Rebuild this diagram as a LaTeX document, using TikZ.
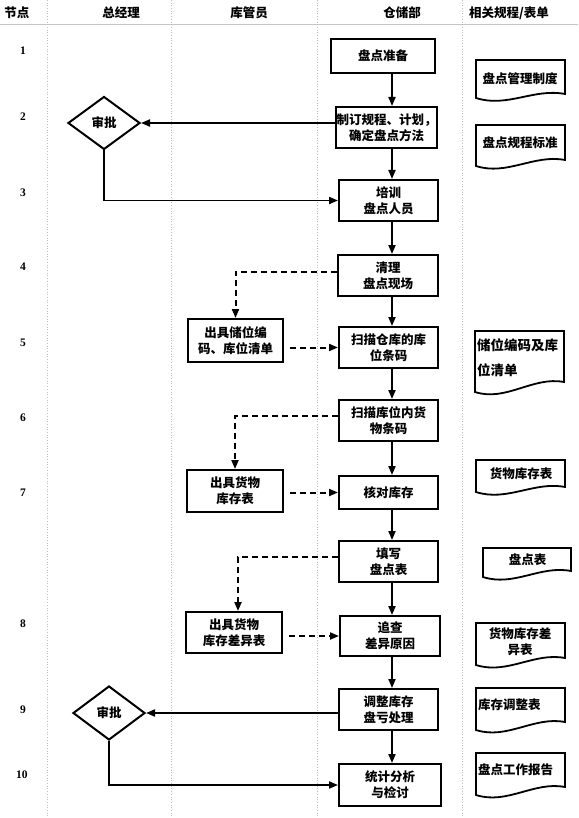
\documentclass[tikz,border=0pt]{standalone}
\usepackage{fontspec}
\setmainfont{Noto Sans CJK SC}
\newfontfamily\numfont{Liberation Serif}
\usetikzlibrary{arrows.meta,shapes.geometric}
\begin{document}
\begin{tikzpicture}[x=1pt,y=-1pt,
  proc/.style={draw, line width=2pt, align=center, inner sep=0pt,
    font=\fontsize{12.5}{16}\selectfont\bfseries},
  dec/.style={draw, diamond, line width=2pt, inner sep=0pt,
    font=\fontsize{12.5}{16}\selectfont\bfseries},
  flow/.style={line width=1.9pt, -{Triangle[length=9pt,width=7pt]}},
  dflow/.style={line width=2pt, dash pattern=on 6pt off 4pt, -{Triangle[length=9pt,width=7pt]}},
  docshape/.style={draw, line width=1.8pt, fill=white},
  doctext/.style={inner sep=0pt, font=\fontsize{12.5}{16}\selectfont\bfseries},
  head/.style={inner sep=0pt, font=\fontsize{12.5}{15}\selectfont\bfseries},
  num/.style={inner sep=0pt, font=\fontsize{11.5}{13}\selectfont\numfont\bfseries},
  grid/.style={gray!50, line width=0.7pt, dotted}
]
\useasboundingbox (0,0) rectangle (578,818);
\fill[white] (0,0) rectangle (578,818);

% grid
\draw[gray!45, line width=0.7pt] (0,24) -- (578,24);
\foreach \gx in {47,171,317,462} \draw[grid] (\gx,0) -- (\gx,818);

% headers
\node[head] (h1) at (17,13) {节点};
\node[head] (h2) at (121,13) {总经理};
\node[head] (h3) at (249,13) {库管员};
\node[head] (h4) at (402,13) {仓储部};
\node[head] (h5) at (509,13) {相关规程/表单};

% numbers
\node[num] (n1) at (23,51) {1};
\node[num] (n2) at (23,117) {2};
\node[num] (n3) at (23,193) {3};
\node[num] (n4) at (23,267) {4};
\node[num] (n5) at (23,343) {5};
\node[num] (n6) at (23,418) {6};
\node[num] (n7) at (23,493) {7};
\node[num] (n8) at (23,624) {8};
\node[num] (n9) at (23,710) {9};
\node[num] (n10) at (22,775) {10};

% main column
\coordinate (ax) at (392,0);
\node[proc, minimum width=104, minimum height=34] (b1) at (383,56) {盘点准备};
\node[proc, minimum width=101, minimum height=41] (b2) at (386.5,127.5) {制订规程、计划，\\确定盘点方法};
\node[proc, minimum width=99, minimum height=41] (b3) at (388.5,200.5) {培训\\盘点人员};
\node[proc, minimum width=100, minimum height=41] (b4) at (388,275.5) {清理\\盘点现场};
\node[proc, minimum width=99, minimum height=41] (b5) at (388.5,347.5) {扫描仓库的库\\位条码};
\node[proc, minimum width=99, minimum height=41] (b6) at (388.5,420.5) {扫描库位内货\\物条码};
\node[proc, minimum width=99, minimum height=33] (b7) at (388.5,492.5) {核对库存};
\node[proc, minimum width=99, minimum height=41] (b8) at (388.5,561.5) {填写\\盘点表};
\node[proc, minimum width=100, minimum height=40] (b9) at (390,636) {追查\\差异原因};
\node[proc, minimum width=99, minimum height=41] (b10) at (388.5,709.5) {调整库存\\盘亏处理};
\node[proc, minimum width=102, minimum height=42] (b11) at (390,785) {统计分析\\与检讨};

% decisions
\node[dec, minimum width=72, minimum height=53] (d1) at (104,123) {审批};
\node[dec, minimum width=72, minimum height=54] (d2) at (109,713) {审批};

% storekeeper
\node[proc, minimum width=95, minimum height=43] (k1) at (235.5,340.5) {出具储位编\\码、库位清单};
\node[proc, minimum width=96, minimum height=42] (k2) at (235,491) {出具货物\\库存表};
\node[proc, minimum width=96, minimum height=41] (k3) at (234,632.5) {出具货物\\库存差异表};

% main flow
\foreach \a/\b in {b1/b2,b2/b3,b3/b4,b4/b5,b5/b6,b6/b7,b7/b8,b8/b9,b9/b10,b10/b11}
  \draw[flow] (\a.south -| ax) -- (\b.north -| ax);

% approvals
\draw[flow] (b2.west |- d1.east) -- (d1.east);
\draw[flow] (d1.south) |- (b3.west);
\draw[flow] (b10.west |- d2.east) -- (d2.east);
\draw[flow] (d2.south) |- (b11.west);

% dashed flows
\draw[dflow] ([yshift=4pt]b4.west) -| (k1.north);
\draw[dflow, shorten <=6pt] (k1.east |- b5.west) -- (b5.west);
\draw[dflow] ([yshift=5pt]b6.west) -| (k2.north);
\draw[dflow, shorten <=6pt] (k2.east |- b7.west) -- (b7.west);
\draw[dflow] ([yshift=5pt]b8.west) -| ([xshift=4pt]k3.north);
\draw[dflow, shorten <=6pt] (k3.east |- b9.west) -- (b9.west);

% documents
\newcommand\docpath[5]{% x1 y1 x2 yl yr
  \draw[docshape] (#1,#2) -- (#3,#2) -- (#3,#5)
    .. controls ({#3-31},{#5-6}) and ({#1+31},{#4+10}) .. (#1,#4) -- cycle;}
\docpath{476}{60}{565}{98}{94}
\docpath{476}{125}{565}{166}{160}
\docpath{475}{331}{564}{392}{382}
\docpath{476}{460}{565}{492}{487}
\docpath{483}{548}{571}{577}{571}
\docpath{476}{623}{565}{665}{658}
\docpath{476}{688}{565}{730}{722}
\docpath{476}{753}{565}{795}{787}

\node[doctext] (t1) at (520,79) {盘点管理制度};
\node[doctext] (t2) at (520,143) {盘点规程标准};
\node[doctext, align=left, anchor=west, font=\fontsize{13.5}{25}\selectfont\bfseries] (t3) at (477,358) {储位编码及库\\位清单};
\node[doctext] (t4) at (521,474) {货物库存表};
\node[doctext] (t5) at (527.5,560) {盘点表};
\node[doctext, align=center] (t6) at (520,642) {货物库存差\\异表};
\node[doctext, anchor=west] (t7) at (478,705) {库存调整表};
\node[doctext, anchor=west] (t8) at (478,770) {盘点工作报告};
\end{tikzpicture}
\end{document}
